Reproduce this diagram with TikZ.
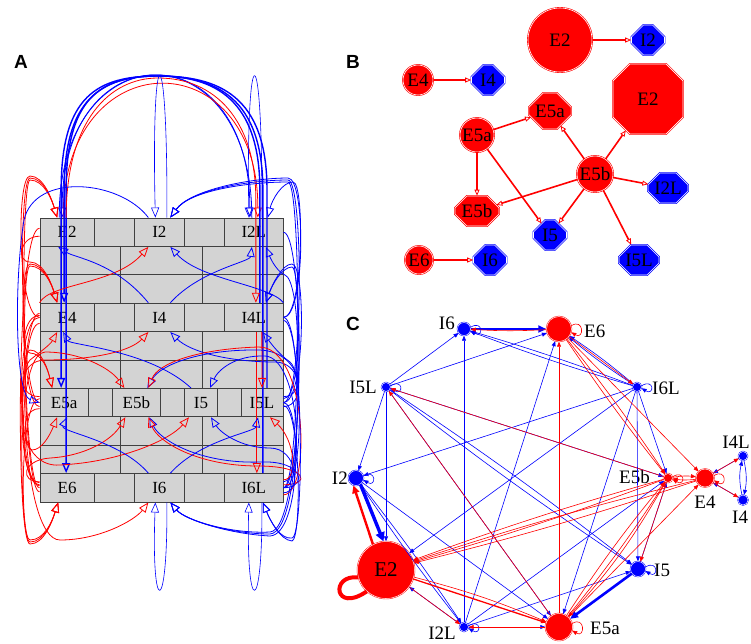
\documentclass[tikz,border=0pt]{standalone}
\usepackage{fontspec}
\setmainfont{Liberation Serif}
\setsansfont{Liberation Sans}
\usetikzlibrary{arrows.meta,shapes.misc}
\definecolor{netred}{HTML}{FF0000}
\definecolor{netblue}{HTML}{0000FF}
\definecolor{brick}{HTML}{D3D3D3}
\tikzset{
  cell/.style={draw=black!75,fill=brick,line width=0.9pt,minimum height=28.4pt,
    inner sep=0pt,font=\fontsize{17}{17}\selectfont},
  wall/.style={draw=black!75,fill=brick,line width=0.9pt},
  red arc/.style={draw=netred,line width=0.8pt,-{Triangle[open,length=10pt,width=8pt]}},
  blue arc/.style={draw=netblue,line width=0.8pt,-{Triangle[open,length=10pt,width=8pt]}},
  thick arc/.style={line width=1.4pt},
  panel/.style={font=\sffamily\bfseries\fontsize{19}{19}\selectfont},
  bcirc/.style={circle,fill=netred,draw=netred,double=white,double distance=0.6pt,
    line width=0.6pt,inner sep=0pt,font=\fontsize{19}{19}\selectfont},
  boct/.style={chamfered rectangle,chamfered rectangle xsep=6pt,chamfered rectangle ysep=6pt,
    fill=#1,draw=#1,double=white,double distance=0.6pt,line width=0.6pt,
    inner sep=0pt,font=\fontsize{19}{19}\selectfont},
  bedge/.style={draw=netred,line width=1.6pt,
    -{Triangle[open,length=6pt,width=5pt,line width=0.8pt]}},
  cnode/.style={circle,fill=#1,draw=#1,double=white,double distance=0.5pt,
    line width=0.45pt,inner sep=0pt},
  clabel/.style={inner sep=0pt,font=\fontsize{19}{19}\selectfont},
  cb/.style={draw=netblue,line width=0.6pt,-{Triangle[length=5pt,width=4pt]}},
  cr/.style={draw=netred,line width=0.6pt,-{Triangle[length=5pt,width=4pt]}}
}
\begin{document}
\begin{tikzpicture}[x=1pt,y=-1pt]
  \useasboundingbox (0,0) rectangle (751,643);

  % A: brick wall
  \node[panel] (labA) at (21,62) {A};
  \foreach \y in {246.4,274.8,331.6,360,416.8,445.2}{
    \draw[wall] (40,\y) rectangle (120,\y+28.4);
    \draw[wall] (120,\y) rectangle (202,\y+28.4);
    \draw[wall] (202,\y) rectangle (283,\y+28.4);
  }
  \foreach \y/\a/\b/\c in {232.2/E2/I2/I2L,317.4/E4/I4/I4L,487.8/E6/I6/I6L}{
    \node[cell,minimum width=54.3pt] (A\a) at (67.15,\y) {\a};
    \draw[wall] (94.3,\y-14.2) rectangle (134.7,\y+14.2);
    \node[cell,minimum width=49.3pt] (A\b) at (159.35,\y) {\b};
    \draw[wall] (184,\y-14.2) rectangle (224.7,\y+14.2);
    \node[cell,minimum width=58.3pt] (A\c) at (253.85,\y) {\c};
  }
  \node[cell,minimum width=48.3pt] (AE5a) at (64.15,402.6) {E5a};
  \draw[wall] (88.3,388.4) rectangle (112,416.8);
  \node[cell,minimum width=48.7pt] (AE5b) at (136.35,402.6) {E5b};
  \draw[wall] (160.7,388.4) rectangle (184.7,416.8);
  \node[cell,minimum width=32.6pt] (AI5) at (201,402.6) {I5};
  \draw[wall] (217.3,388.4) rectangle (241,416.8);
  \node[cell,minimum width=42pt] (AI5L) at (262,402.6) {I5L};

  % A: arcs over the top
  \draw[blue arc] ([xshift=-2pt]AI2L.north) .. controls (252,29) and (62,29) .. ([xshift=-5pt]AE2.north);
  \draw[blue arc] ([xshift=-8pt]AE2.north) .. controls (59,29) and (250,29) .. ([xshift=-4pt]AI2L.north);
  \draw[red arc] ([xshift=-4pt]AE2.north) .. controls (63,40) and (258,40) .. ([xshift=4pt]AI2L.north);
  \draw[blue arc,thick arc] ([xshift=6pt]AI4L.north) -- (259.85,190) .. controls (259.85,100) and (215,76) .. (158,76)
    .. controls (100,76) and (64.15,100) .. (64.15,190) -- ([xshift=-3pt]AE4.north);
  \draw[blue arc,thick arc] ([xshift=5pt]AI5L.north) -- (267,190) .. controls (267,95) and (218,76) .. (158,76)
    .. controls (98,76) and (61.15,95) .. (61.15,190) -- ([xshift=-3pt]AE5a.north);
  \draw[blue arc,thick arc] ([xshift=9pt]AI6L.north) -- (262.85,190) .. controls (262.85,98) and (216,76) .. (158,76)
    .. controls (100,76) and (66.15,98) .. (66.15,190) -- ([xshift=-1pt]AE6.north);
  \draw[red arc] ([xshift=-1pt]AE2.north) .. controls (66.15,120) and (110,78) .. (158,78)
    .. controls (215,78) and (255.85,120) .. (255.85,200) -- ([xshift=2pt]AI4L.north);
  \draw[red arc] ([xshift=3pt]AI4L.south) -- ([xshift=3pt]AI6L.north);
  \draw[red arc] ([xshift=8pt]AI4L.south) -- (AI5L.north);

  % A: self loops
  \draw[blue arc,line width=0.6pt] ([xshift=7.5pt]AI2.north) .. controls (168,30) and (151,30) .. ([xshift=-4pt]AI2.north);
  \draw[blue arc,line width=0.6pt] ([xshift=8pt]AI2L.north) .. controls (263,30) and (246,30) .. ([xshift=-5pt]AI2L.north);
  \draw[blue arc,line width=0.6pt] ([xshift=7.5pt]AI6.south) .. controls (168,618) and (151,618) .. ([xshift=-4pt]AI6.south);
  \draw[blue arc,line width=0.6pt] ([xshift=8pt]AI6L.south) .. controls (263,618) and (246,618) .. ([xshift=-5pt]AI6L.south);

  % A: red loops on the left
  \foreach \s/\d in {AE4/0,AE5a/2,AE6/4}
    \draw[red arc] (\s.west) .. controls +(-22+\d,0) and (16+\d,176+\d) .. (30,176+\d)
      .. controls (44,176+\d) and (52,200) .. ([xshift=-10pt]AE2.north);
  \foreach \s/\d in {AE2/0,AE5a/2,AE6/4}
    \draw[red arc] ([yshift=-4pt]\s.west) .. controls +(-20+\d,0) and (16+\d,262+\d) .. (30,262+\d)
      .. controls (44,262+\d) and (52,285) .. ([xshift=-10pt]AE4.north);
  \foreach \s/\d in {AE6/0,AE4/3}
    \draw[red arc] ([yshift=2pt]\s.west) .. controls +(-20+\d,0) and (18+\d,350+\d) .. (30,350+\d)
      .. controls (42,350+\d) and (48,370) .. ([xshift=-12pt]AE5a.north);
  \foreach \s/\d in {AE2/0,AE4/2,AE5a/4}
    \draw[red arc] ([yshift=4pt]\s.west) .. controls +(-24+\d,0) and (16+\d,544-\d) .. (30,544-\d)
      .. controls (44,544-\d) and (52,522) .. ([xshift=-9pt]AE6.south);
  \draw[red arc] ([yshift=5pt]AE6.west) .. controls +(-25,0) and (20,352) .. (45,352)
    .. controls (80,352) and (110,368) .. ([xshift=-12pt]AE5b.north);
  \draw[red arc] ([yshift=6pt]AE5a.west) .. controls +(-25,0) and (20,360) .. (45,360)
    .. controls (90,360) and (130,352) .. ([xshift=-11pt]AI4.south);
  \draw[red arc] ([yshift=3pt]AE6.west) .. controls +(-22,0) and (18,370) .. (30,360)
    .. controls (40,352) and (50,345) .. ([xshift=-10pt]AE4.south);
  \draw[red arc] (AE4.west) .. controls +(-24,0) and (18,450) .. (32,450)
    .. controls (42,450) and (50,435) .. ([xshift=-7pt]AE5a.south);
  \draw[red arc] ([yshift=6pt]AE6.west) .. controls +(-20,0) and (22,460) .. (50,458)
    .. controls (85,456) and (112,440) .. ([xshift=-11pt]AE5b.south);
  \draw[red arc] ([yshift=-6pt]AE5a.west) .. controls +(-25,0) and (22,468) .. (60,465)
    .. controls (120,462) and (170,440) .. ([xshift=-12pt]AI5.south);
  \draw[red arc] ([yshift=-6pt]AE4.west) .. controls +(-24,0) and (20,540) .. (60,540)
    .. controls (100,540) and (135,520) .. ([xshift=-11pt]AI6.south);
  \draw[red arc] (AE4.north west) .. controls (50,283) and (115,285) .. ([xshift=-11pt]AI2.south);

  % A: blue loops on the right
  \foreach \s/\d in {AI4L/0,AI5L/2,AI6L/4}
    \draw[blue arc] (\s.east) .. controls +(22-\d,0) and (306-\d,178+\d) .. (288,178+\d)
      .. controls (250,178+\d) and (190,190) .. ([xshift=11pt]AI2.north);
  \draw[blue arc] (AI4L.east) .. controls +(20,0) and (305,182) .. (293,182)
    .. controls (282,182) and (272,200) .. ([xshift=14pt]AI2L.north);
  \foreach \s/\d in {AI5L/0,AI6L/3}
    \draw[blue arc] (\s.east) .. controls +(22-\d,0) and (306-\d,264+\d) .. (292,264+\d)
      .. controls (282,264+\d) and (272,285) .. ([xshift=12pt]AI4L.north);
  \draw[blue arc] (AI4L.north east) .. controls (270,285) and (200,280) .. ([xshift=11pt]AI2.south);
  \draw[blue arc] ([yshift=4pt]AI5L.east) .. controls +(20,0) and (300,280) .. (285,275)
    .. controls (278,272) and (272,262) .. ([xshift=12pt]AI2L.south);
  \draw[blue arc] ([yshift=6pt]AI5L.east) .. controls +(22,0) and (300,362) .. (275,362)
    .. controls (230,362) and (190,352) .. ([xshift=11pt]AI4.south);
  \draw[blue arc] (AI6L.east) .. controls +(20,0) and (303,370) .. (290,362)
    .. controls (280,355) and (272,345) .. ([xshift=9pt]AI4L.south);
  \draw[blue arc] ([yshift=-4pt]AI5L.east) .. controls +(24,0) and (305,352) .. (260,350)
    .. controls (200,349) and (160,365) .. ([xshift=11pt]AE5b.north);
  \draw[red arc] ([yshift=-7pt]AI6L.east) .. controls +(28,0) and (308,345) .. (258,347)
    .. controls (198,349) and (158,363) .. ([xshift=12pt]AE5b.north);
  \draw[blue arc] ([yshift=6pt]AI6L.east) .. controls +(22,0) and (300,358) .. (265,356)
    .. controls (235,355) and (218,370) .. ([xshift=9pt]AI5.north);
  \draw[blue arc] (AI6L.east) .. controls +(24,0) and (305,460) .. (260,462)
    .. controls (200,464) and (160,440) .. ([xshift=13pt]AE5b.south);
  \draw[red arc] ([yshift=3pt]AI6L.east) .. controls +(28,0) and (308,466) .. (258,466)
    .. controls (198,466) and (158,442) .. ([xshift=12pt]AE5b.south);
  \draw[blue arc] ([yshift=-5pt]AI6L.east) .. controls +(18,0) and (298,448) .. (270,448)
    .. controls (240,448) and (220,432) .. ([xshift=10pt]AI5.south);
  \draw[red arc] ([yshift=8pt]AI6L.east) .. controls +(15,0) and (295,440) .. ([xshift=8pt]AI5L.south);
  \foreach \s/\d in {AI2L/0,AI4L/2,AI5L/4}
    \draw[blue arc] (\s.east) .. controls +(22-\d,0) and (306-\d,530+\d) .. (270,532+\d)
      .. controls (230,534) and (185,520) .. ([xshift=11pt]AI6.south);
  \foreach \s/\d in {AI4L/0,AI5L/3}
    \draw[blue arc] ([yshift=-3pt]\s.east) .. controls +(20-\d,0) and (305-\d,536+\d) .. (292,538+\d)
      .. controls (280,540) and (270,520) .. ([xshift=9pt]AI6L.south);

  % A: blue arcs across the wall
  \draw[blue arc] ([xshift=-11pt]AI2.north) .. controls (120,180) and (35,172) .. (24,220)
    .. controls (14,280) and (15,395) .. (AE5a.west);
  \draw[blue arc] ([xshift=-11pt]AI4.north) .. controls (115,262) and (75,258) .. ([xshift=-9pt]AE2.south);
  \draw[blue arc] ([xshift=11pt]AI4.north) .. controls (200,270) and (250,262) .. ([xshift=-2pt]AI2L.south);
  \draw[blue arc] ([xshift=-10pt]AI5.north) .. controls (150,350) and (70,345) .. ([xshift=-4pt]AE4.south);
  \draw[blue arc] ([xshift=-11pt]AI6.north) .. controls (120,440) and (60,432) .. ([xshift=3pt]AE5a.south);
  \draw[blue arc] ([xshift=11pt]AI6.north) .. controls (200,440) and (255,432) .. ([xshift=-4pt]AI5L.south);

  % B: induced network
  \node[panel] (labB) at (353,62) {B};
  \node[bcirc,minimum size=64pt] (BE2c) at (560,40) {E2};
  \node[boct=netblue,minimum width=33pt,minimum height=30pt] (BI2) at (648,40) {I2};
  \node[bcirc,minimum size=30pt] (BE4) at (418,80) {E4};
  \node[boct=netblue,minimum width=33pt,minimum height=30pt] (BI4) at (488,80) {I4};
  \node[bcirc,minimum size=34pt] (BE5ac) at (477,135) {E5a};
  \node[boct=netred,minimum width=36pt,minimum height=36pt,chamfered rectangle xsep=8pt,
    chamfered rectangle ysep=8pt] (BE5ao) at (550,111) {E5a};
  \node[boct=netred,minimum width=70pt,minimum height=70pt,chamfered rectangle xsep=20pt,
    chamfered rectangle ysep=20pt] (BE2o) at (648,99) {E2};
  \node[bcirc,minimum size=36pt] (BE5bc) at (595,174) {E5b};
  \node[boct=netblue,minimum width=40pt,minimum height=30pt] (BI2L) at (668,188) {I2L};
  \node[boct=netred,minimum width=44pt,minimum height=30pt] (BE5bo) at (477,211) {E5b};
  \node[boct=netblue,minimum width=33pt,minimum height=30pt] (BI5) at (550,235) {I5};
  \node[boct=netblue,minimum width=40pt,minimum height=30pt] (BI5L) at (639,260) {I5L};
  \node[bcirc,minimum size=28pt] (BE6) at (419,260) {E6};
  \node[boct=netblue,minimum width=33pt,minimum height=30pt] (BI6) at (490,260) {I6};
  \draw[bedge] (BE2c) -- (BI2);
  \draw[bedge] (BE4) -- (BI4);
  \draw[bedge] (BE6) -- (BI6);
  \draw[bedge] (BE5ac) -- (BE5ao);
  \draw[bedge] (BE5ac) -- (BE5bo);
  \draw[bedge] (BE5ac) -- (BI5);
  \foreach \t in {BE5ao,BE2o,BI2L,BE5bo,BI5,BI5L}
    \draw[bedge] (BE5bc) -- (\t);

  % C: circular network
  \node[panel] (labC) at (353,324) {C};
  \node[cnode=netblue,minimum size=13pt] (cI6) at (464,329) {};
  \node[cnode=netred,minimum size=25pt] (cE6) at (559,329) {};
  \node[cnode=netblue,minimum size=9pt] (cI6L) at (637,387) {};
  \node[cnode=netred,minimum size=9pt] (cE5b) at (668,478) {};
  \node[cnode=netred,minimum size=18pt] (cE4) at (705,478) {};
  \node[cnode=netblue,minimum size=9pt] (cI4L) at (743,456) {};
  \node[cnode=netblue,minimum size=10pt] (cI4) at (743,500) {};
  \node[cnode=netblue,minimum size=15pt] (cI5) at (638,569) {};
  \node[cnode=netred,minimum size=27pt] (cE5a) at (559,627) {};
  \node[cnode=netblue,minimum size=9pt] (cI2L) at (464,627) {};
  \node[cnode=netred,minimum size=57pt,font=\fontsize{21}{21}\selectfont] (cE2) at (386,570) {E2};
  \node[cnode=netblue,minimum size=15pt] (cI2) at (356,478) {};
  \node[cnode=netblue,minimum size=9pt] (cI5L) at (386,387) {};
  \node[clabel,anchor=east] (tI6) at (455,323) {I6};
  \node[clabel,anchor=west] (tE6) at (584,331) {E6};
  \node[clabel,anchor=west] (tI6L) at (652,388) {I6L};
  \node[clabel,anchor=east] (tI5L) at (377,387) {I5L};
  \node[clabel,anchor=east] (tI2) at (348,478) {I2};
  \node[clabel,anchor=east] (tE5b) at (650,477) {E5b};
  \node[clabel] (tE4) at (705,502) {E4};
  \node[clabel,anchor=east] (tI4L) at (750,442) {I4L};
  \node[clabel,anchor=west] (tI4) at (732,517) {I4};
  \node[clabel,anchor=west] (tI5) at (654,570) {I5};
  \node[clabel,anchor=west] (tE5a) at (590,628) {E5a};
  \node[clabel] (tI2L) at (442,633) {I2L};

  % C: blue links
  \foreach \t in {cI6,cE6,cI2,cE2,cE5b,cE5a}
    \draw[cb] (cI5L) -- (\t);
  \draw[cb] (cI5L) to[bend left=2] (cI5);
  \draw[cb] (cI5L) to[bend right=2] (cI5);
  \foreach \t in {cI2,cE2,cE5b,cI5,cE5a}
    \draw[cb] (cI6L) -- (\t);
  \draw[cb] (cI6L) to[bend left=2] (cI6);
  \draw[cb] (cI6L) to[bend right=2] (cI6);
  \draw[cb] (cI6L) to[bend left=3] (cE6);
  \draw[cb] (cI6L) to[bend right=3] (cE6);
  \foreach \t in {cI6,cE6,cE5b,cE5a,cE2,cI5}
    \draw[cb] (cI2L) -- (\t);
  \draw[cb] (cI2) to[bend left=2] (cI2L);
  \draw[cb] (cI2) to[bend right=2] (cI2L);
  \draw[cb] (cI2) -- (cE5a);
  \draw[cb] (cI5) -- (cE5b);
  \draw[cb] (cI4L) -- (cE4);
  \draw[cb] (cI4) -- (cE4);
  \draw[cb] (cI4L) to[bend left=12] (cI4);
  \draw[cb] (cI4) to[bend left=12] (cI4L);
  \draw[draw=netblue,line width=2.6pt,-{Triangle[length=8pt,width=7pt]}] (cI6) -- (cE6);
  \draw[draw=netblue,line width=3.4pt,-{Triangle[length=9pt,width=9pt]}] (cI2.-55) -- (cE2.95);
  \draw[draw=netblue,line width=2.6pt,-{Triangle[length=8pt,width=7pt]}] (cI5) -- (cE5a);
  \foreach \n in {cI6,cI6L,cI2,cI5,cI2L,cI5L}
    \draw[cb] (\n.15) .. controls +(13,-8) and +(13,8) .. (\n.-15);

  % C: red links
  \draw[draw=netred,line width=2.4pt,-{Triangle[length=8pt,width=7pt]}] (cE2.117) -- (cI2.250);
  \draw[draw=netred,line width=4pt] (cE2.195) .. controls (330,574) and (334,614) .. (cE2.228);
  \draw[cr] (cE5b) to[bend left=2] (cE2);
  \draw[cr] (cE5b) to[bend right=2] (cE2);
  \draw[cr] (cE4) to[bend left=2] (cE2);
  \draw[cr] (cE4) to[bend right=2] (cE2);
  \draw[cr,line width=1.3pt] (cE2) -- (cE5a);
  \draw[cr] (cE2) to[bend left=4] (cE5a);
  \draw[cr] (cE2) -- (cI2L);
  \foreach \t in {cE6,cI5L,cE4,cI2L}
    \draw[cr] (cE5a) -- (\t);
  \draw[cr] (cE5a) to[bend left=3] (cE5b);
  \draw[cr] (cE5a) to[bend right=3] (cE5b);
  \draw[cr] (cE6) to[bend left=3] (cI6);
  \draw[cr] (cE6) -- (cI6L);
  \draw[cr] (cE6) to[bend left=2] (cE5b);
  \draw[cr] (cE6) to[bend right=2] (cE5b);
  \draw[cr] (cE6) -- (cE4);
  \draw[cr] (cE5b) to[bend left=8] (cE4);
  \draw[cr] (cE4) to[bend left=8] (cE5b);
  \draw[cr] (cE4) -- (cI4L);
  \draw[cr] (cE4) -- (cI4);
  \draw[cr] (cE5b) -- (cI5L);
  \draw[cr] (cE5b) to[bend left=6] (cE5a);
  \draw[cr] (cE5b) -- (cI5);
  \foreach \n in {cE6,cE5b,cE4,cE5a}
    \draw[cr] (\n.15) .. controls +(13,-8) and +(13,8) .. (\n.-15);
\end{tikzpicture}
\end{document}
